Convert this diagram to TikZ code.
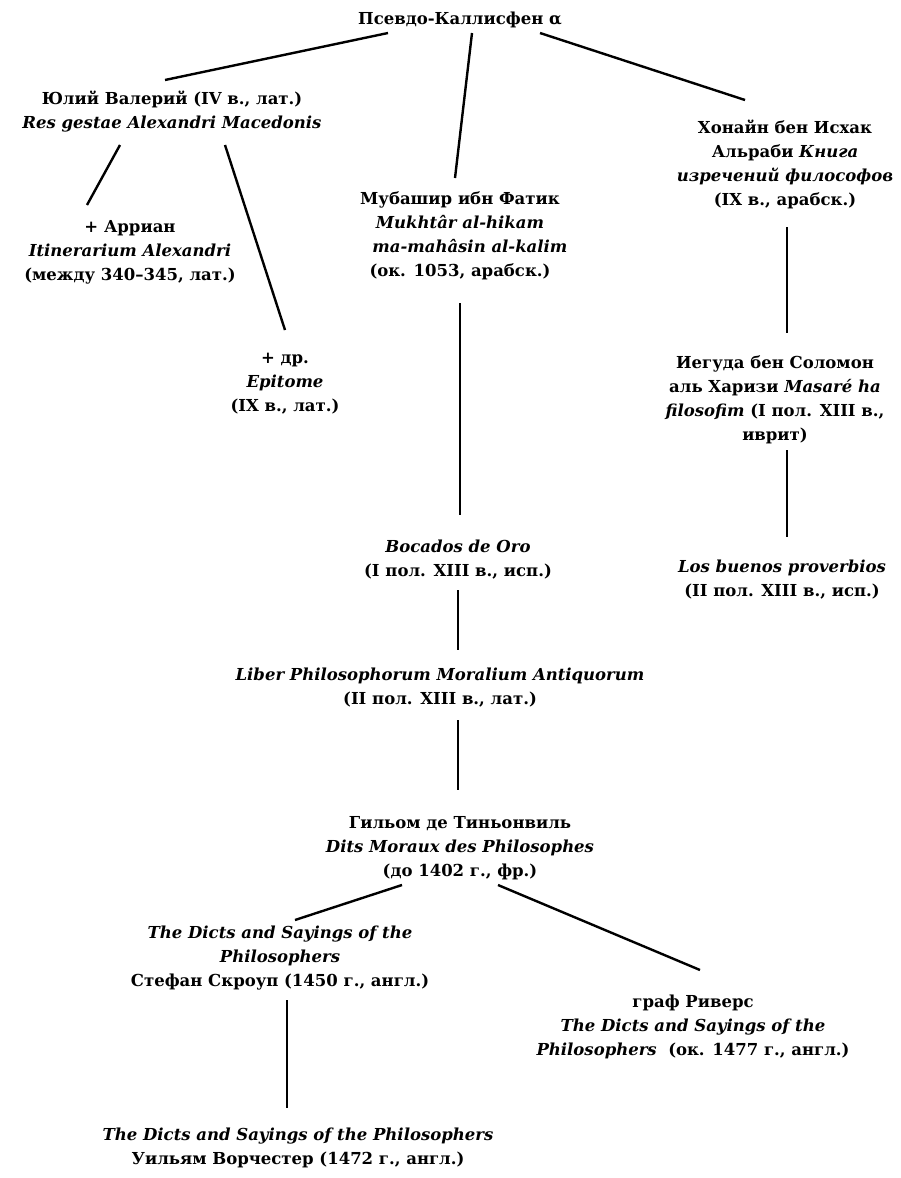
\documentclass[tikz,border=0pt]{standalone}
\usepackage{fontspec}
\setmainfont{DejaVu Serif}
\usetikzlibrary{calc}
\tikzset{
  txt/.style={align=center, inner sep=0pt, font=\bfseries\fontsize{16.5}{24}\selectfont},
  link/.style={line width=2.4pt, line cap=butt}
}
\begin{document}
\begin{tikzpicture}[x=1pt,y=-1pt]
\useasboundingbox[fill=white] (0,0) rectangle (900,1178);
\node[txt] (top) at (460,20) {Псевдо-Каллисфен α};
\node[txt] (jul) at (172,112) {Юлий Валерий (IV в., лат.)\\\textit{Res gestae Alexandri Macedonis}};
\node[txt] (hon) at (785,164) {Хонайн бен Исхак\\Альраби \textit{Книга}\\\textit{изречений философов}\\(IX в., арабск.)};
\node[txt] (arr) at (130,252) {+ Арриан\\\textit{Itinerarium Alexandri}\\(между 340–345, лат.)};
\node[txt] (epi) at (285,384) {+ др.\\\textit{Epitome}\\(IX в., лат.)};
\node[txt] (mub) at (460,236) {Мубашир ибн Фатик\\\textit{Mukhtâr al-hikam}\\\hspace*{1.2em}\textit{ma-mahâsin al-kalim}\\(ок. 1053, арабск.)};
\node[txt] (ieg) at (775,400) {Иегуда бен Соломон\\аль Харизи \textit{Masaré ha}\\\textit{filosofim} (I пол. XIII в.,\\иврит)};
\node[txt] (los) at (782,580) {\textit{Los buenos proverbios}\\(II пол. XIII в., исп.)};
\node[txt] (boc) at (458,560) {\textit{Bocados de Oro}\\(I пол. XIII в., исп.)};
\node[txt] (lib) at (440,688) {\textit{Liber Philosophorum Moralium Antiquorum}\\(II пол. XIII в., лат.)};
\node[txt] (gil) at (460,848) {Гильом де Тиньонвиль\\\textit{Dits Moraux des Philosophes}\\(до 1402 г., фр.)};
\node[txt] (scr) at (280,958) {\textit{The Dicts and Sayings of the}\\\textit{Philosophers}\\Стефан Скроуп (1450 г., англ.)};
\node[txt] (riv) at (693,1027) {граф Риверс\\\textit{The Dicts and Sayings of the}\\\textit{Philosophers}\ \ (ок. 1477 г., англ.)};
\node[txt] (wor) at (298,1148) {\textit{The Dicts and Sayings of the Philosophers}\\Уильям Ворчестер (1472 г., англ.)};
% connectors
\draw[link] ($(top)+(-72,13)$) -- ($(jul)+(-7,-32)$);
\draw[link] ($(top)+(12,13)$) -- ($(mub)+(-5,-58)$);
\draw[link] ($(top)+(80,13)$) -- ($(hon)+(-40,-64)$);
\draw[link] ($(jul)+(-52,33)$) -- ($(arr)+(-43,-47)$);
\draw[link] ($(jul)+(53,33)$) -- ($(epi)+(0,-54)$);
\draw[link] ($(mub)+(0,67)$) -- ($(boc)+(2,-45)$);
\draw[link] ($(hon)+(2,63)$) -- ($(ieg)+(12,-67)$);
\draw[link] ($(ieg)+(12,50)$) -- ($(los)+(5,-43)$);
\draw[link] ($(boc)+(0,30)$) -- ($(lib)+(18,-38)$);
\draw[link] ($(lib)+(18,32)$) -- ($(gil)+(-2,-58)$);
\draw[link] ($(gil)+(-58,37)$) -- ($(scr)+(15,-38)$);
\draw[link] ($(gil)+(38,37)$) -- ($(riv)+(7,-57)$);
\draw[link] ($(scr)+(7,42)$) -- ($(wor)+(-11,-40)$);
\end{tikzpicture}
\end{document}
